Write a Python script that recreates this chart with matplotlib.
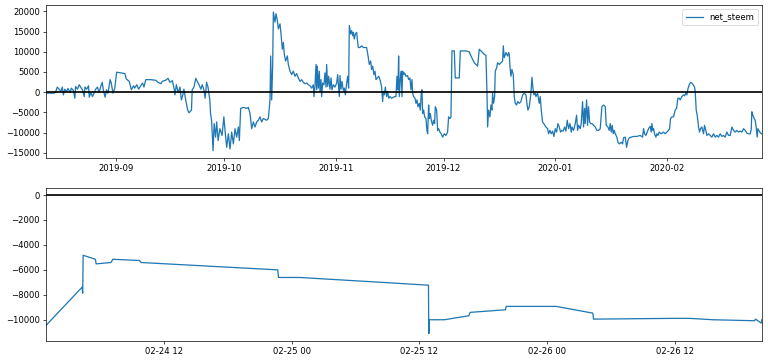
import numpy as np
import pandas as pd
import matplotlib
matplotlib.use('Agg')
import matplotlib.pyplot as plt

# top panel: net_steem, days since 2019-08-12 13:00
top_start = pd.Timestamp('2019-08-12 13:00')
top_days = [
    0.0, 2.2, 2.7, 3.1, 3.6, 4.1, 4.5, 4.8, 5.2, 5.7, 6.1, 6.7, 7.0, 7.6, 8.0, 8.2, 8.7, 9.2, 9.6, 10.1,
    10.6, 10.8, 11.3, 11.8, 12.0, 12.4, 12.9, 13.3, 13.8, 14.3, 14.7, 15.2, 15.6, 15.9, 16.4, 16.8, 17.2,
    17.8, 18.1, 18.6, 19.1, 19.6, 20.7, 21.9, 22.3, 23.1, 23.7, 24.3, 24.6, 25.2, 25.7, 26.3, 26.8, 27.2,
    27.7, 29.1, 30.5, 31.1, 31.9, 32.3, 33.2, 33.9, 34.4, 35.1, 35.6, 35.8, 36.2, 36.7, 37.2, 37.6, 38.0,
    38.3, 38.8, 39.3, 39.7, 40.4, 40.6, 41.1, 41.6, 42.0, 42.5, 43.0, 43.4, 43.9, 44.2, 44.6, 45.0, 45.5,
    45.7, 46.0, 46.4, 46.7, 47.1, 47.4, 47.8, 48.3, 48.9, 49.4,
    49.72, 50.19, 50.65, 51.11, 51.57, 52.04, 52.5, 52.96, 53.43, 53.7, 54.07, 54.81, 55.74, 56.2, 56.67,
    57.13, 57.59, 58.06, 58.52, 58.98, 59.44, 59.91, 60.37, 61.3, 61.76, 62.22, 62.41, 62.69, 62.96, 63.15,
    63.61, 63.89, 64.26, 64.54, 65.0, 65.28, 65.65, 65.93, 66.2, 66.57, 67.04, 67.31, 67.78, 68.24, 68.7,
    69.17, 69.63, 70.09, 70.56, 71.02, 71.48, 71.94, 72.41, 72.87, 73.33, 73.8, 74.26, 74.44, 74.72, 75.0,
    75.19, 75.37, 75.65, 75.93, 76.11, 76.39, 76.57, 76.85, 77.22, 77.5, 77.78, 77.96, 78.24, 78.52, 78.89,
    79.17, 79.44, 79.81, 80.28, 80.74, 81.02, 81.3, 81.48, 81.67, 81.94, 82.22, 82.59, 82.87, 83.15, 83.52,
    83.8, 84.07, 84.26, 84.63, 84.91, 85.19, 85.37, 85.65, 85.93, 86.3, 86.48, 86.76, 87.22, 87.69, 88.15,
    89.07, 89.54, 89.81, 90.19, 90.46, 90.74, 91.11, 91.39, 91.67, 92.04, 92.41, 92.78, 93.24, 93.52, 93.7,
    93.98, 94.26, 94.63, 94.91, 95.19, 95.56, 96.02, 96.48, 96.94,
    97.22, 97.5, 97.78, 97.96, 98.15, 98.43, 98.7, 98.89, 99.07, 99.35, 99.63, 100.0, 100.46, 100.74, 101.11,
    101.39, 101.67, 101.85, 102.13, 102.5, 102.78, 103.06, 103.33, 103.7, 103.98, 104.26, 104.44, 104.63,
    104.91, 105.19, 105.56, 105.83, 106.02, 106.3, 106.48, 106.76, 107.04, 107.41, 107.69, 107.96, 108.15,
    108.52, 108.8, 109.07, 109.44, 109.81, 110.19, 110.65, 111.11, 111.57, 111.85, 112.22, 112.5, 112.78,
    113.43, 113.7, 114.81, 115.09, 116.67, 117.59, 118.06, 118.52, 118.98, 119.44, 119.91, 120.37, 120.83,
    121.3, 121.76, 122.22, 122.5, 122.69, 122.96, 123.33, 123.61, 123.89, 124.07, 124.35, 124.63, 124.81,
    125.19, 125.46, 125.93, 126.39, 126.85, 127.04, 127.31, 127.78, 128.24, 128.52, 128.7, 128.89, 129.17,
    129.44, 129.81, 130.09, 130.37, 130.74, 131.02, 131.48, 131.94, 132.41, 132.87, 133.33, 133.61, 133.89,
    134.26, 134.72, 135.0, 135.28, 135.56, 135.93, 136.11, 136.57, 137.04, 137.31, 137.59, 137.96, 138.43,
    138.89, 139.35, 139.63, 140.0, 140.37, 140.74, 141.11, 141.48, 141.85, 142.22, 142.59, 142.96, 143.33,
    143.7, 144.07, 144.44, 144.81, 145.19, 145.56, 145.93,
    146.11, 146.57, 147.04, 147.41, 147.69, 147.96, 148.43, 148.7, 149.07, 149.35, 149.63, 149.81, 150.19,
    150.46, 150.74, 151.02, 151.3, 151.67, 152.13, 152.59, 153.06, 153.52, 153.98, 154.26, 154.44, 154.91,
    155.37, 155.65, 156.11, 156.48, 156.76, 157.04, 157.31, 157.59, 157.87, 158.15, 158.61, 158.89, 159.26,
    159.81, 160.19, 160.46, 160.93, 161.3, 161.67, 162.04, 162.59, 163.24, 164.17, 165.09, 165.74, 166.02,
    166.3, 166.67, 167.04, 167.41, 167.87, 168.15, 168.33, 168.61, 168.8, 169.07, 169.44, 169.72, 170.0,
    170.37, 170.93, 171.57, 172.04, 172.5, 172.96, 173.24, 173.52, 173.89, 174.35, 174.81, 175.19, 175.56,
    175.93, 176.2, 176.67, 177.13, 177.41, 177.78, 178.06, 178.33, 178.52, 178.7, 179.07, 179.44, 179.81,
    180.19, 180.37, 180.65, 180.93, 181.3, 181.57, 181.85, 182.22, 182.69, 182.96, 183.33, 183.61, 184.07,
    184.54, 185.0, 185.46, 185.93, 186.39, 186.85, 187.31, 187.78, 188.24, 188.7, 189.17, 189.63, 190.09,
    190.56, 191.02, 191.48, 191.94, 192.41, 192.87, 193.33, 193.8, 194.26, 194.72, 195.19, 195.65, 195.93,
    196.11, 196.39, 196.76, 197.04, 197.31, 197.59, 197.78, 198.15, 198.52, 198.89,
]
net_steem = [
    -250, -250, 170, 1260, 750, 170, 1260, -670, 750, 170, 920, -80, 1000, 420, -1500, 1420, 750, 1840, 1260, 590,
    -1090, 1260, 750, 1590, -1260, -80, -1090, -250, 750, 1260, -80, 1420, 2430, 590, -1260, 590, -250,
    3100, 2260, -250, 1000, 4940, 4770, 4600, 3260, 2680, 590, 1590, 1000, 1840, 750, 1590, 2260, 1260,
    3100, 3100, 2930, 2430, 2090, 2680, 2930, 3430, 2430, 2850, 750, -670, 1840, -80, 1260, -1930, -670,
    750, -1930, -4270, -5110, -4440, 590, 1260, 3430, 2680, 1840, 750, 1840, 420, -1500, 2430, 1260, -1930,
    -5270, -7110, -14480, -7780, -11130, -7370, -11970, -9040, -10710, -6110,
    -9460, -13640, -10300, -14060, -9880, -12810, -9040, -11130, -8620, -11970, -4020, -3770, -4020, -3770, -5270,
    -9040, -7370, -8620, -7370, -6950, -6110, -7370, -6530, -6950, -6530, -1930, 8960, -1930, 6440, 19840,
    17330, 19420, 17740, 15650, 16910, 14400, 10630, 12300, 9370, 7700, 8960, 6860, 5190, 4350, 5190,
    3930, 4600, 3520, 2680, 3100, 2430, 2090, 2260, 1840, 1590, 1000, 1840, -1090, 1420, 6860,
    590, 6440, 1000, 5190, 170, 3100, -1090, 2260, 1840, 4770, 1260, 6860, 1420, 3930, 750,
    3520, 590, 1840, 1260, 2260, 4350, 1000, -1090, 4100, 750, 2680, 420, 1000, -670, 2260,
    3930, 1000, 16490, 14400, 15230, 13980, 14810, 13140, 14400, 14810, 13140, 11050, 11050, 11470, 11050,
    11050, 8540, 6860, 7700, 5610, 6440, 4350, 5190, 3100, 3520, 3930, 3100, 1260, -2340, 170,
    -670, 1260, -1090, 170, -1500, -1090, -1500, -1260, -1090,
    -1090, 3930, 590, 8960, -1090, 3100, 5190, -1090, 5190, 4350, 4770, 3930, 4100, 3100, 3520,
    590, 3100, -250, -1090, -1500, -2760, -1930, -3600, -2760, -4440, -250, 590, -5270,
    -4440, -6110, -6530, -9460, -10300, -3180, -6530, -5270, -6950, -8200, -6950, -7780, -3600,
    -4440, -9460, -9040, -9880, -10300, -11130, -10300, -10710, -9880, -6110, -6530, -6110, 10210,
    10210, 3520, 3520, 10210, 10210, 9960, 8960, 8120, 7280, 6860, 6440, 10630, 10210,
    9790, 9370, 9120, 170, -8620, -4440, -6110, -3180, -4440, -250, -2760, -1090, 5190,
    6030, 7280, 6860, 7280, 7700, 11470, 8540, 9790, 8960, 9790, 9370, 6440, 3930,
    5610, 4350, -1090, -2760, -3180, -2340, -2760, -2340, -670, -250, -670, -2760, -4440,
    -3600, -250, 3680, 1000, -670, -250, -1090, -250, -2760, -1090, -4440, -7370, -7950,
    -8620, -9040, -10300, -9460, -10300, -9630, -10960, -9040, -9880, -7780, -8620, -9880, -9460,
    -9630, -8620, -9630, -6950, -9040, -7780, -9880,
    -8620, -9460, -7780, -5690, -9460, -8200, -9040, -7780, -2340, -8620, -4020, -7780, -1930,
    -8200, -3600, -7370, -7780, -7780, -8200, -8620, -9460, -9460, -9040, -5690, -3600, -3180,
    -3600, -8200, -8620, -9460, -7780, -9880, -8200, -10300, -9460, -10300, -11130, -12390, -12810,
    -12390, -12810, -11300, -11130, -13640, -11970, -11300, -11130, -10960, -10960, -10710, -11130, -9040,
    -10300, -10710, -9880, -9040, -8450, -9880, -7780, -9460, -9040, -10300, -11130, -10300, -10710,
    -9880, -10300, -9880, -10300, -9880, -9460, -9040, -6530, -6110, -6110, -4440, -4020, -1500,
    -1500, -1930, -1090, -670, -920, -250, -670, 750, 1260, 1840, 2430, 2260, 1840,
    1260, 170, -4440, -5690, -8620, -9880, -9040, -8620, -10300, -8200, -9460, -10710, -10300,
    -10710, -11130, -10300, -11130, -10710, -11130, -10300, -10960, -10710, -11130, -9880, -10710, -10710,
    -8620, -9460, -9880, -9460, -9880, -9630, -9880, -9040, -9460, -10130, -10300, -10300, -9290,
    -4850, -5690, -6530, -6950, -8620, -11130, -9040, -9630, -10130, -10300,
]

# bottom panel: last days, hours since 2020-02-24 00:00
bottom_start = pd.Timestamp('2020-02-24 00:00')
bottom_hours = [0.95, 4.33, 4.39, 4.43, 5.58, 5.65, 7.05, 7.21, 9.72, 9.87, 22.7, 22.77, 24.74,
                32.25, 36.85, 36.88, 36.94, 38.35, 40.64, 40.76, 44.08, 44.14, 48.84, 52.28,
                52.35, 59.79, 61.36, 63.55, 67.46, 67.56, 68.09, 68.15]
bottom_vals = [-10450, -7390, -7870, -4830, -5150, -5520, -5410, -5150, -5250, -5410, -6000, -6610, -6610,
               -6990, -7230, -11120, -10000, -10000, -9680, -9410, -9200, -8930, -8930, -9470,
               -9950, -9890, -9890, -10000, -10080, -9950, -10270, -10000]

top_t = top_start + pd.to_timedelta(top_days, unit='D')
bot_t = bottom_start + pd.to_timedelta(bottom_hours, unit='h')

fig, (ax1, ax2) = plt.subplots(2, 1, figsize=(768 / 61, 362 / 61), dpi=61)
fig.subplots_adjust(left=0.06, right=0.992, top=0.986, bottom=0.059, hspace=0.2)

ax1.plot(top_t, net_steem, color='#1f77b4', label='net_steem')
ax1.axhline(0, color='black', lw=2)
ax1.set_xlim(top_t[0], top_t[-1])
ax1.legend(loc='upper right')

ax2.plot(bot_t, bottom_vals, color='#1f77b4')
ax2.axhline(0, color='black', lw=2)
ax2.set_xlim(bot_t[0], bot_t[-1])

fig.savefig('out.png', dpi=61)
